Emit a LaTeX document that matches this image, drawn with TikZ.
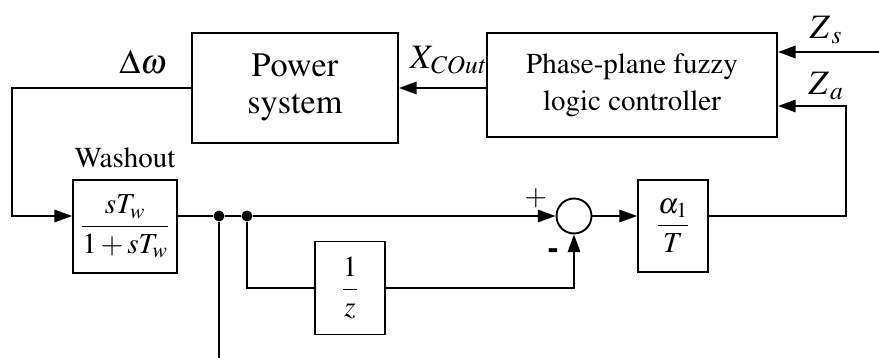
\documentclass[tikz,border=0pt]{standalone}
\usepackage[T1]{fontenc}
\usepackage{amsmath, mathptmx}
\usetikzlibrary{arrows.meta}
\tikzstyle{blk}=[draw, line width=1.1pt, inner sep=0, align=center]
\tikzstyle{dot}=[shape=circle, minimum size=2.2mm, inner sep=0, fill=black]
\tikzstyle{sig}=[line width=1.1pt]
\tikzstyle{arr}=[line width=1.1pt, -{Triangle[length=10pt, width=7pt]}]
\newcommand{\bigtxt}{\fontsize{19.5}{23}\selectfont}
\newcommand{\midtxt}{\fontsize{16.5}{21}\selectfont}

\begin{document}
\begin{tikzpicture}[x=0.02cm, y=-0.02cm]
\useasboundingbox (0,0) rectangle (879,358);
\node at (295,88)[blk, minimum width=4.12cm, minimum height=2.2cm, font=\bigtxt](pwr){Power\\[-2pt]system};
\node at (632,85)[blk, minimum width=5.8cm, minimum height=2.08cm, font=\midtxt](flc){Phase-plane fuzzy\\logic controller};
\node at (125,226.5)[blk, minimum width=2.08cm, minimum height=1.86cm, font=\midtxt](wash){$\dfrac{sT_w}{1+sT_w}$};
\node at (350,288)[blk, minimum width=1.4cm, minimum height=1.86cm, font=\midtxt](dly){$\dfrac{1}{z}$};
\node at (673,226)[blk, minimum width=1.4cm, minimum height=1.84cm, font=\midtxt](gain){$\dfrac{\alpha_1}{T}$};
\node at (574,216)[draw, circle, line width=1.1pt, minimum size=0.7cm, inner sep=0](sum){};
\node at (219,216)[dot](d1){};
\node at (247,216)[dot](d2){};
\coordinate (za) at (846,106);
\coordinate (zs) at (879,52);
\coordinate (fb) at (12,150);
\coordinate (out) at (219,358);
% connectors
\draw[arr] (pwr.west) -| (fb) |- (wash.west |- d1);
\draw[sig] (wash.east |- d1) -- (d1) -- (d2);
\draw[arr] (d2) -- (sum.west);
\draw[sig] (d1) -- (out);
\draw[sig] (d2) |- (dly.west);
\draw[arr] (dly.east) -| (sum.south);
\draw[arr] (sum.east) -- (gain.west |- sum);
\draw[arr] (gain.east |- sum) -| (za) -- (flc.east |- za);
\draw[arr] (zs) -- (flc.east |- zs);
\draw[arr] (flc.west |- pwr) -- (pwr.east);
% labels
\node at (143,62)[font=\bigtxt](lw){$\Delta\omega$};
\node at (448,60)[font=\bigtxt](lx){$X_{\mathit{COut}}$};
\node at (826,30)[font=\bigtxt](ls){$Z_{\,s}$};
\node at (826,86)[font=\bigtxt](la){$Z_{\,a}$};
\node at (536,198)[font=\midtxt](lp){$+$};
\node at (553,254)[font=\bigtxt\bfseries](lm){-};
\node at (125,158)[font=\midtxt](lwo){Washout};
\end{tikzpicture}
\end{document}
